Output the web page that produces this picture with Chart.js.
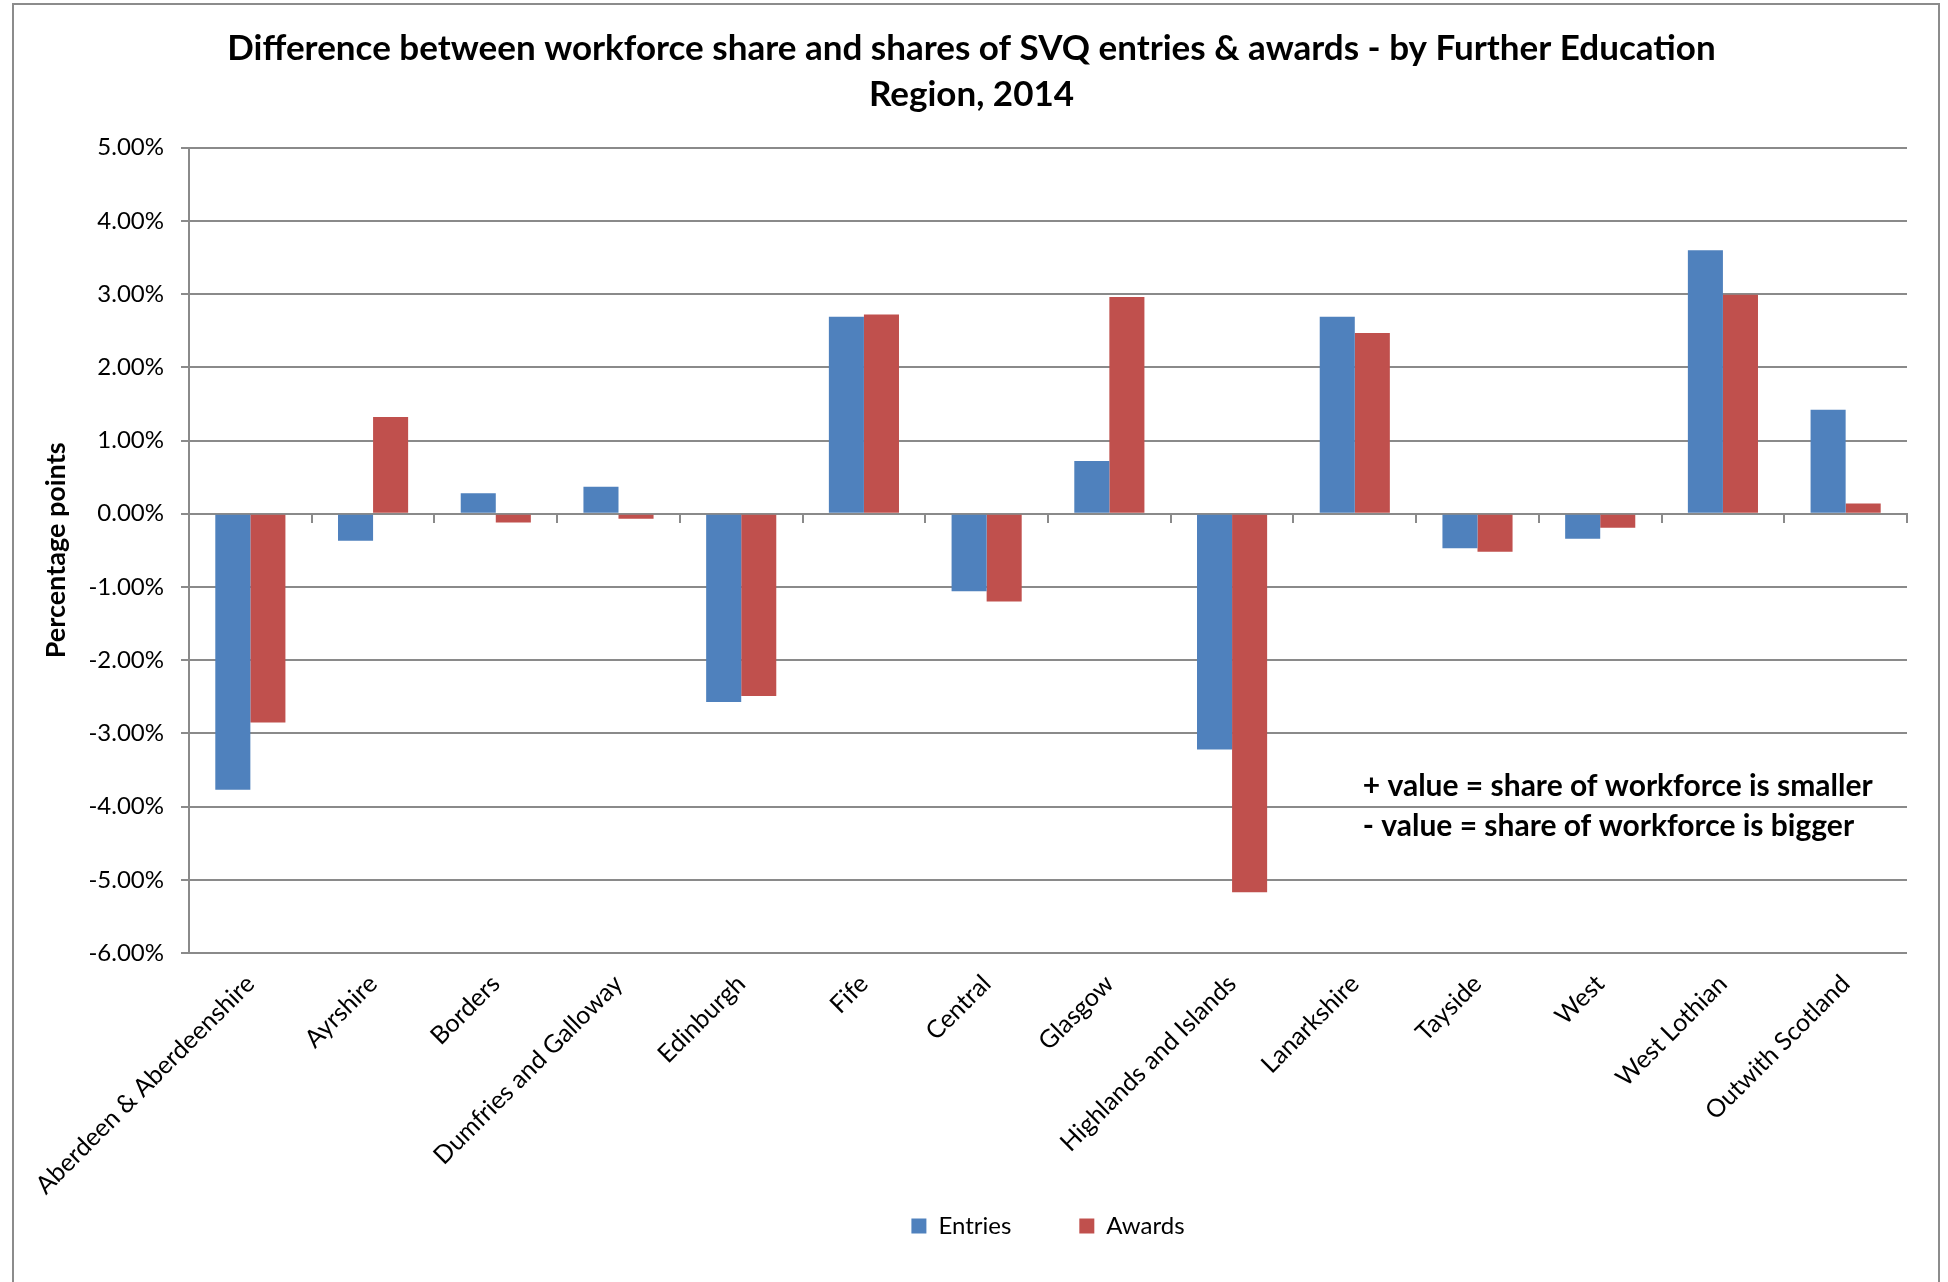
<!DOCTYPE html>
<html lang="en">
<head>
  <meta charset="UTF-8">
  <title>SVQ entries & awards by FE Region</title>
  <style>
    body {
      margin: 0;
      padding: 0;
      background: #fff;
      font-family: 'Lato', sans-serif;
    }
    .wrap {
      position: relative;
      width: 1948px;
      height: 1282px;
    }
    /* outer chart frame, like the Excel chart border */
    .frame {
      position: absolute;
      left: 12px;
      top: 3px;
      width: 1924px;
      height: 1300px;
      border: 2px solid #8c8c8c;
      pointer-events: none;
    }
  </style>
  <script src="https://cdn.jsdelivr.net/npm/chart.js"></script>
</head>
<body>
  <div class="wrap">
    <canvas id="chart" width="1948" height="1282"></canvas>
    <div class="frame"></div>
  </div>

  <script>
    // Categories (FE regions)
    const regions = [
      'Aberdeen & Aberdeenshire', 'Ayrshire', 'Borders', 'Dumfries and Galloway',
      'Edinburgh', 'Fife', 'Central', 'Glasgow', 'Highlands and Islands',
      'Lanarkshire', 'Tayside', 'West', 'West Lothian', 'Outwith Scotland'
    ];

    // Difference in percentage points
    const entries = [-3.77, -0.37, 0.28, 0.37, -2.57, 2.69, -1.06, 0.72, -3.22, 2.69, -0.47, -0.34, 3.60, 1.42];
    const awards  = [-2.85, 1.32, -0.12, -0.07, -2.49, 2.72, -1.20, 2.96, -5.17, 2.47, -0.52, -0.19, 2.99, 0.14];

    const yMin = -6;
    const yMax = 5;
    const yStep = 1;

    const titleLines = [
      'Difference between workforce share and shares of SVQ entries & awards - by Further Education',
      'Region, 2014'
    ];
    const noteLines = [
      '+ value = share of workforce is smaller',
      '- value = share of workforce is bigger'
    ];

    const gridColor = '#8a8a8a';

    Chart.defaults.font.family = "'Lato', sans-serif";
    Chart.defaults.color = '#000';

    // text box in the lower right of the plot
    const notePlugin = {
      id: 'note',
      afterDraw(chart) {
        const { ctx, scales } = chart;
        const x = scales.x.getPixelForValue(9) + 8;
        const ys = [-3.72, -4.27];
        ctx.save();
        ctx.font = "bold 30px 'Lato', sans-serif";
        ctx.fillStyle = '#000';
        ctx.textAlign = 'left';
        ctx.textBaseline = 'middle';
        noteLines.forEach((t, i) => ctx.fillText(t, x, scales.y.getPixelForValue(ys[i])));
        ctx.restore();
      }
    };

    // centre the legend under the plot, and let the rotated labels run below the x box
    const layoutTweak = {
      id: 'layoutTweak',
      afterLayout(chart) {
        const area = chart.chartArea;
        if (chart.legend) {
          chart.legend.left = area.left;
          chart.legend.right = area.right;
          chart.legend.width = area.right - area.left;
        }
        chart.scales.x.bottom = chart.height;
      }
    };

    new Chart(document.getElementById('chart'), {
      type: 'bar',
      data: {
        labels: regions,
        datasets: [
          { label: 'Entries', data: entries, backgroundColor: '#4F81BD', borderWidth: 0 },
          { label: 'Awards', data: awards, backgroundColor: '#C0504D', borderWidth: 0 }
        ]
      },
      options: {
        responsive: false,
        animation: false,
        maintainAspectRatio: false,
        categoryPercentage: 2 / 3.5,
        barPercentage: 1.0,
        layout: {
          padding: { left: 36, right: 41, top: 0, bottom: 34 }
        },
        scales: {
          x: {
            offset: true,
            grid: { display: false },
            border: { display: false },
            ticks: {
              minRotation: 45,
              maxRotation: 45,
              autoSkip: false,
              padding: 8,
              font: { size: 25 }
            },
            afterFit(scale) { scale.height = 193; }
          },
          // zero line with the category tick marks
          x2: {
            type: 'category',
            labels: regions,
            position: { y: 0 },
            offset: true,
            grid: {
              offset: true,
              drawOnChartArea: false,
              drawTicks: true,
              tickLength: 8,
              color: gridColor,
              lineWidth: 2
            },
            border: { display: true, color: gridColor, width: 2 },
            ticks: { display: false }
          },
          y: {
            min: yMin,
            max: yMax,
            ticks: {
              stepSize: yStep,
              padding: 17,
              font: { size: 24 },
              callback: v => v.toFixed(2) + '%'
            },
            grid: {
              color: gridColor,
              lineWidth: 2,
              tickLength: 8
            },
            border: { display: true, color: gridColor, width: 2 },
            title: {
              display: true,
              text: 'Percentage points',
              font: { size: 27, weight: 'bold' },
              padding: { top: 4, bottom: 4 }
            },
            afterFit(scale) { scale.width = 153; }
          }
        },
        plugins: {
          title: {
            display: true,
            text: titleLines,
            font: { size: 35, weight: 'bold', lineHeight: 1.31 },
            padding: { top: 26, bottom: 30 }
          },
          legend: {
            position: 'bottom',
            labels: {
              boxWidth: 15,
              boxHeight: 15,
              padding: 68,
              font: { size: 24 }
            }
          },
          tooltip: { enabled: false }
        }
      },
      plugins: [notePlugin, layoutTweak]
    });
  </script>
</body>
</html>
